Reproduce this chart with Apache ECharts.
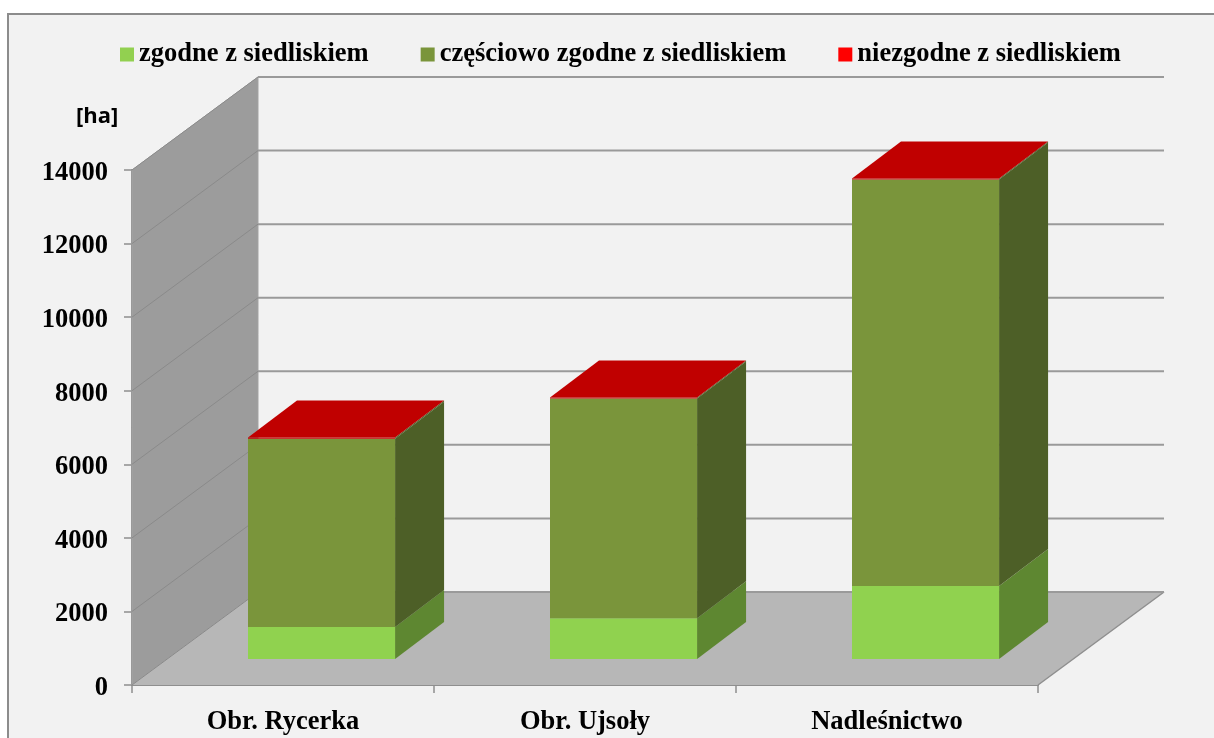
<!DOCTYPE html>
<html><head><meta charset="utf-8">
<style>html,body{margin:0;padding:0;background:#fff}#c{width:1214px;height:738px}</style>
<script src="https://cdn.jsdelivr.net/npm/echarts@6/dist/echarts.min.js"></script>
</head><body><div id="c"></div>
<script>
const categories = ['Obr. Rycerka', 'Obr. Ujsoły', 'Nadleśnictwo'];
const zgodne = [870, 1110, 1985];
const czesciowo = [5120, 5970, 11050];
const niezgodne = [30, 30, 30];
const seriesNames = ['zgodne z siedliskiem', 'częściowo zgodne z siedliskiem', 'niezgodne z siedliskiem'];
const yTicks = [0, 2000, 4000, 6000, 8000, 10000, 12000, 14000];

// projection of the pseudo-3D box
const WALL = [126, -93], FRONT = [35, -26], DEPTH = [49, -37], BAR_RATIO = 0.487, BAR_SHIFT = -35;
const SERIF = '"Liberation Serif","Times New Roman",serif';
const GRID_C = '#8f8f8f';

function barRender(front, side, top) {
  return function (params, api) {
    const band = api.size([1, 0])[0];
    const w = band * BAR_RATIO;
    const low = api.coord([api.value(0), api.value(1)]);
    const high = api.coord([api.value(0), api.value(2)]);
    const x0 = low[0] + BAR_SHIFT;
    const x1 = x0 + w;
    const y0 = low[1] + FRONT[1], y1 = high[1] + FRONT[1];
    const children = [
      { type: 'polygon', shape: { points: [[x1, y0], [x1 + DEPTH[0], y0 + DEPTH[1]], [x1 + DEPTH[0], y1 + DEPTH[1]], [x1, y1]] }, style: { fill: side } },
      { type: 'rect', shape: { x: x0, y: y1, width: w, height: y0 - y1 }, style: { fill: front } }
    ];
    if (top) children.push({ type: 'polygon', shape: { points: [[x0, y1], [x1, y1], [x1 + DEPTH[0], y1 + DEPTH[1]], [x0 + DEPTH[0], y1 + DEPTH[1]]] }, style: { fill: top } });
    return { type: 'group', children };
  };
}
function stacked(i) {
  return categories.map((_, c) => {
    const parts = [zgodne[c], czesciowo[c], niezgodne[c]];
    let base = 0;
    for (let k = 0; k < i; k++) base += parts[k];
    return [c, base, base + parts[i]];
  });
}
const chart = echarts.init(document.getElementById('c'), null, { renderer: 'canvas' });
chart.setOption({
  animation: false,
  backgroundColor: '#ffffff',
  graphic: [{ type: 'rect', z: -10, silent: true, shape: { x: 8, y: 14, width: 1300, height: 800 }, style: { fill: '#f2f2f2', stroke: '#8c8c8c', lineWidth: 2 } }],
  title: { text: '[ha]', left: 71, top: 101, textStyle: { fontFamily: '"Open Sans",sans-serif', fontWeight: 'bold', fontSize: 22, color: '#000' } },
  legend: {
    left: 115, top: 36, icon: 'rect', itemWidth: 14, itemHeight: 14, itemGap: 52,
    data: seriesNames,
    textStyle: { fontFamily: SERIF, fontWeight: 'bold', fontSize: 26.5, color: '#000' }
  },
  grid: { left: 132, right: 176, top: 170, bottom: 53 },
  xAxis: {
    type: 'category', data: categories,
    axisLine: { lineStyle: { color: GRID_C, width: 2 } },
    axisTick: { show: true, alignWithLabel: false, length: 8, lineStyle: { color: GRID_C, width: 1.5 } },
    axisLabel: { margin: 24, color: '#000', fontFamily: SERIF, fontWeight: 'bold', fontSize: 26.5 }
  },
  yAxis: {
    type: 'value', min: 0, max: 14000, interval: 2000,
    axisLine: { show: true, lineStyle: { color: GRID_C, width: 2 } },
    axisTick: { show: true, length: 8, lineStyle: { color: GRID_C, width: 1.5 } },
    splitLine: { show: false },
    axisLabel: { margin: 24, color: '#000', fontFamily: SERIF, fontWeight: 'bold', fontSize: 26.5, lineHeight: 6, verticalAlign: 'top', formatter: v => String(v) }
  },
  series: [
    {
      type: 'custom', name: 'walls', silent: true, z: 1, data: [[0, 0, 14000]], encode: { x: 0, y: [1, 2] },
      renderItem(params, api) {
        const cs = params.coordSys;
        const b = api.coord([0, api.value(1)])[1], t = api.coord([0, api.value(2)])[1];
        const l = cs.x, r = cs.x + cs.width;
        return { type: 'group', children: [
          { type: 'polygon', shape: { points: [[l, b], [l + WALL[0], b + WALL[1]], [l + WALL[0], t + WALL[1]], [l, t]] }, style: { fill: '#9c9c9c', stroke: '#a3a3a3', lineWidth: 1 } },
          { type: 'polygon', shape: { points: [[l, b], [r, b], [r + WALL[0], b + WALL[1]], [l + WALL[0], b + WALL[1]]] }, style: { fill: '#b7b7b7' } },
          { type: 'line', shape: { x1: r, y1: b, x2: r + WALL[0], y2: b + WALL[1] }, style: { stroke: GRID_C, lineWidth: 1.5 } }
        ] };
      }
    },
    {
      type: 'custom', name: 'gridlines', silent: true, z: 2, data: yTicks.map(v => [0, v]), encode: { x: 0, y: 1 },
      renderItem(params, api) {
        const cs = params.coordSys;
        const y = api.coord([0, api.value(1)])[1];
        const l = cs.x, r = cs.x + cs.width;
        return { type: 'group', children: [
          { type: 'line', shape: { x1: l, y1: y, x2: l + WALL[0], y2: y + WALL[1] }, style: { stroke: '#8a8a8a', lineWidth: 1 } },
          { type: 'line', shape: { x1: l + WALL[0], y1: y + WALL[1], x2: r + WALL[0], y2: y + WALL[1] }, style: { stroke: '#9a9a9a', lineWidth: 2 } }
        ] };
      }
    },
    { type: 'custom', name: seriesNames[0], z: 3, itemStyle: { color: '#92d050' }, data: stacked(0), encode: { x: 0, y: [1, 2] }, renderItem: barRender('#90d24f', '#5e8731', null) },
    { type: 'custom', name: seriesNames[1], z: 4, itemStyle: { color: '#7a953b' }, data: stacked(1), encode: { x: 0, y: [1, 2] }, renderItem: barRender('#7a953b', '#4d5f27', null) },
    { type: 'custom', name: seriesNames[2], z: 5, itemStyle: { color: '#ff0000' }, data: stacked(2), encode: { x: 0, y: [1, 2] }, renderItem: barRender('#c00000', '#4d5f27', '#c00000') }
  ]
});
</script></body></html>
